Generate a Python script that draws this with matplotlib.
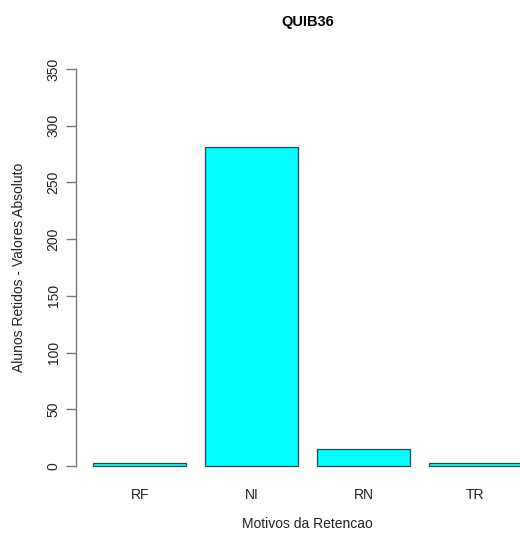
import matplotlib
matplotlib.use("Agg")
import matplotlib.pyplot as plt

# data
categories = ["RF", "NI", "RN", "TR"]
counts = [3, 281, 15, 3]
y_ticks = [0, 50, 100, 150, 200, 250, 300, 350]

plt.rcParams['font.family'] = ['Liberation Sans', 'DejaVu Sans']

W, H = 520, 533
fig = plt.figure(figsize=(W / 100, H / 100), dpi=100)

# R-style barplot geometry: width 1, space 0.2, 4% axis extension
centers = [0.7 + 1.2 * i for i in range(len(categories))]
x_lo, x_hi = 0.2, 0.2 + 1.2 * len(categories) - 0.2
ext = 0.04 * (x_hi - x_lo)
y_ext = 0.04 * 350

left_px, right_px = 76, 539
bottom_px, top_px = 482, 53
ax = fig.add_axes([left_px / W, 1 - bottom_px / H,
                   (right_px - left_px) / W, (bottom_px - top_px) / H])

ax.bar(centers, counts, width=1.0, color="#00FFFF", edgecolor="#2a4a4a", linewidth=0.9)

ax.set_xlim(x_lo - ext, x_hi + ext)
ax.set_ylim(-y_ext, 350 + y_ext)

for s in ["top", "right", "bottom"]:
    ax.spines[s].set_visible(False)
ax.spines["left"].set_bounds(0, 350)
ax.spines["left"].set_color("#777777")
ax.spines["left"].set_linewidth(1.0)

ax.set_yticks(y_ticks)
ax.set_yticklabels([str(t) for t in y_ticks], rotation=90, va="center", fontsize=10, color="#222222")
ax.tick_params(axis="y", length=7, width=1.0, color="#777777", pad=4)

ax.set_xticks(centers)
ax.set_xticklabels(categories, fontsize=10, color="#222222")
ax.tick_params(axis="x", length=0, pad=4)

ax.set_xlabel("Motivos da Retencao", fontsize=10, color="#222222", labelpad=11)
ax.set_ylabel("Alunos Retidos - Valores Absoluto", fontsize=10, color="#222222", labelpad=15)

fig.text((left_px + right_px) / 2 / W, 1 - 22 / H, "QUIB36", ha="center", va="center",
         fontsize=10.5, fontweight="bold")

fig.savefig("out.png", dpi=100)
